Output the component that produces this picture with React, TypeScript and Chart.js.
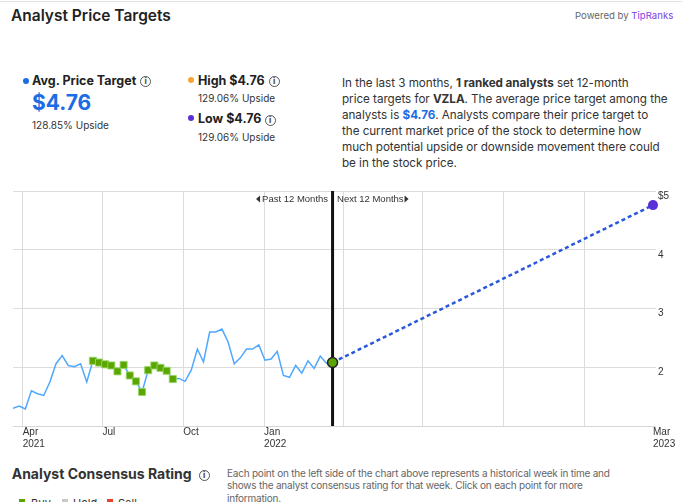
import React, { useEffect, useRef } from "react";
import { Chart, registerables } from "chart.js";
Chart.register(...registerables);

// ---------- data ----------
const weekDates = [
  "2021-03-21", "2021-03-28", "2021-04-04", "2021-04-11", "2021-04-18", "2021-04-25",
  "2021-05-02", "2021-05-09", "2021-05-16", "2021-05-23", "2021-05-30",
  "2021-06-06", "2021-06-13", "2021-06-20", "2021-06-27",
  "2021-07-04", "2021-07-11", "2021-07-18", "2021-07-25",
  "2021-08-01", "2021-08-08", "2021-08-15", "2021-08-22", "2021-08-29",
  "2021-09-05", "2021-09-12", "2021-09-19", "2021-09-26",
  "2021-10-03", "2021-10-10", "2021-10-17", "2021-10-24", "2021-10-31",
  "2021-11-07", "2021-11-14", "2021-11-21", "2021-11-28",
  "2021-12-05", "2021-12-12", "2021-12-19", "2021-12-26",
  "2022-01-02", "2022-01-09", "2022-01-16", "2022-01-23", "2022-01-30",
  "2022-02-06", "2022-02-13", "2022-02-20", "2022-02-27",
  "2022-03-06", "2022-03-13", "2022-03-20",
];
const prices = [
  1.30, 1.34, 1.29, 1.60, 1.55, 1.52, 1.75, 2.06, 2.20, 2.03, 2.01,
  2.06, 1.75, 2.11, 2.08, 2.05, 2.03, 1.93, 2.04, 1.86, 1.76, 1.58,
  1.95, 2.03, 1.99, 1.94, 1.80, 1.81, 1.76, 1.95, 2.31, 2.09, 2.60,
  2.60, 2.65, 2.43, 2.06, 2.16, 2.31, 2.31, 2.38, 2.12, 2.14, 2.27,
  1.86, 1.83, 2.03, 1.90, 2.11, 1.98, 2.19, 2.07, 2.08,
];
const ratings = [
  "", "", "", "", "", "", "", "", "", "", "", "", "",
  "buy", "buy", "buy", "buy", "buy", "buy", "buy", "buy", "buy", "buy", "buy", "buy", "buy", "buy",
  "", "", "", "", "", "", "", "", "", "", "", "", "", "", "", "", "", "", "", "", "", "", "", "", "",
  "buy",
];
const currentDate = "2022-03-20";
const targetDate = "2023-03-20";
const axisStart = "2021-03-21";
const avgTarget = 4.76;
const highTarget = 4.76;
const lowTarget = 4.76;
const avgUpside = "128.85%";
const highUpside = "129.06%";
const lowUpside = "129.06%";
const tickDates = [
  "2021-04-01", "2021-07-01", "2021-10-01", "2022-01-01",
  "2022-04-01", "2022-07-01", "2022-10-01", "2023-01-01", "2023-03-20",
];
const tickLabels: (string | string[])[] = [
  ["Apr", "2021"], "Jul", "Oct", ["Jan", "2022"], "", "", "", "", ["Mar", "2023"],
];
const yTicks = [1, 2, 3, 4, 5];
const yTickLabels = ["", "2", "3", "4", "$5"];

// ---------- helpers ----------
const dayNum = (s: string) =>
  (Date.UTC(+s.slice(0, 4), +s.slice(5, 7) - 1, +s.slice(8, 10)) - Date.UTC(2021, 0, 1)) / 86400000;

const FONT = "Inter, 'Noto Sans', sans-serif";

const T = (p: { x: number; cy: number; size: number; lh?: number; weight?: number; color?: string; children: any; style?: any }) => {
  const lh = p.lh ?? Math.round(p.size * 1.3);
  return (
    <div
      style={{
        position: "absolute", left: p.x, top: p.cy - lh / 2, fontSize: p.size, lineHeight: lh + "px",
        fontWeight: p.weight ?? 400, color: p.color ?? "#333", whiteSpace: "nowrap", ...p.style,
      }}
    >
      {p.children}
    </div>
  );
};

const Info = ({ cx, cy }: { cx: number; cy: number }) => (
  <div
    style={{
      position: "absolute", left: cx - 5.5, top: cy - 5.5, width: 9, height: 9, border: "1.2px solid #555",
      borderRadius: "50%", fontSize: 8, lineHeight: "9px", textAlign: "center", color: "#555", fontWeight: 700,
      fontFamily: "'DejaVu Sans', sans-serif",
    }}
  >
    i
  </div>
);

const Dot = ({ cx, cy, c }: { cx: number; cy: number; c: string }) => (
  <div style={{ position: "absolute", left: cx - 3, top: cy - 3, width: 6, height: 6, borderRadius: "50%", background: c }} />
);

const Sq = ({ x, y, c }: { x: number; y: number; c: string }) => (
  <div style={{ position: "absolute", left: x, top: y, width: 6, height: 6, background: c }} />
);

export default function App() {
  const ref = useRef<HTMLCanvasElement | null>(null);

  useEffect(() => {
    if (!ref.current) return;
    const days = weekDates.map(dayNum);
    const cur = dayNum(currentDate);
    const tgt = dayNum(targetDate);
    const minDay = dayNum(axisStart);
    const tickDays = tickDates.map(dayNum);
    const last = prices.length - 1;

    const pricePts = days.map((d, i) => ({ x: d, y: prices[i] }));
    const ratingPts = days
      .map((d, i) => ({ x: d, y: prices[i], r: ratings[i], i }))
      .filter((p) => p.r === "buy" && p.i < last)
      .map((p) => ({ x: p.x, y: p.y }));

    const divider = {
      id: "divider",
      beforeDatasetsDraw(chart: any) {
        const { ctx, chartArea } = chart;
        const xs = chart.scales.x;
        const px = xs.getPixelForValue(cur);
        ctx.save();
        ctx.strokeStyle = "#111";
        ctx.lineWidth = 3;
        ctx.beginPath();
        ctx.moveTo(px, chartArea.top);
        ctx.lineTo(px, chartArea.bottom);
        ctx.stroke();
        const y = chartArea.top + 8;
        ctx.font = "9.5px 'Liberation Sans', Arial, sans-serif";
        ctx.fillStyle = "#333";
        ctx.textBaseline = "middle";
        ctx.textAlign = "right";
        const pastTxt = "Past 12 Months";
        const wp = ctx.measureText(pastTxt).width;
        ctx.fillText(pastTxt, px - 4.5, y);
        const sx = px - 4.5 - wp - 2;
        ctx.beginPath();
        ctx.moveTo(sx - 4, y);
        ctx.lineTo(sx, y - 3.5);
        ctx.lineTo(sx, y + 3.5);
        ctx.closePath();
        ctx.fill();
        ctx.textAlign = "left";
        const nextTxt = "Next 12 Months";
        const wn = ctx.measureText(nextTxt).width;
        ctx.fillText(nextTxt, px + 4.5, y);
        const ex = px + 4.5 + wn + 1;
        ctx.beginPath();
        ctx.moveTo(ex + 4, y);
        ctx.lineTo(ex, y - 3.5);
        ctx.lineTo(ex, y + 3.5);
        ctx.closePath();
        ctx.fill();
        ctx.restore();
      },
    };

    const chart = new Chart(ref.current, {
      type: "line",
      data: {
        datasets: [
          {
            data: [{ x: cur, y: prices[last] }],
            pointRadius: 5,
            pointBackgroundColor: "#5aa500",
            pointBorderColor: "#222",
            pointBorderWidth: 1.5,
            showLine: false,
            order: 0,
            clip: false,
          } as any,
          {
            data: [{ x: tgt, y: avgTarget }],
            pointRadius: 5,
            pointBackgroundColor: "#5a2fd6",
            pointBorderColor: "#5a2fd6",
            pointBorderWidth: 0,
            showLine: false,
            order: 1,
            clip: false,
          },
          {
            data: ratingPts,
            pointStyle: "rect",
            pointRadius: 5,
            pointBackgroundColor: "#5aa500",
            pointBorderColor: "rgba(150,215,100,0.9)",
            pointBorderWidth: 1,
            showLine: false,
            order: 2,
          },
          {
            data: [{ x: cur, y: prices[last] }, { x: tgt, y: avgTarget }],
            borderColor: "#2a58dc",
            borderWidth: 2.5,
            borderDash: [4, 3],
            pointRadius: 0,
            order: 3,
            clip: false,
          },
          {
            data: pricePts,
            borderColor: "#4fa8ff",
            borderWidth: 1.5,
            pointRadius: 0,
            tension: 0,
            order: 4,
          },
        ],
      },
      options: {
        animation: false,
        responsive: false,
        devicePixelRatio: 1,
        layout: { padding: { left: 13, right: 19, top: 11, bottom: 0 } },
        plugins: { legend: { display: false }, tooltip: { enabled: false } },
        scales: {
          x: {
            type: "linear",
            min: minDay,
            max: tgt,
            afterBuildTicks: (s: any) => {
              s.ticks = tickDays.map((v) => ({ value: v }));
            },
            afterFit: (s: any) => {
              s.height = 34;
              s.paddingLeft = 0;
              s.paddingRight = 0;
            },
            ticks: {
              autoSkip: false,
              maxRotation: 0,
              minRotation: 0,
              align: "start",
              padding: 0,
              color: "#333",
              font: { size: 10, family: "'Liberation Sans', Arial, sans-serif", lineHeight: 1.2 },
              callback: (v: any) => {
                const k = tickDays.indexOf(v);
                return k >= 0 ? tickLabels[k] : "";
              },
            },
            grid: {
              color: (c: any) => (c.tick && c.tick.value === tgt ? "rgba(0,0,0,0)" : "#dcdcdc"),
              drawTicks: false,
              lineWidth: 1,
            },
            border: { color: "#d6d6d6" },
          } as any,
          y: {
            position: "right",
            min: 1,
            max: 5,
            afterBuildTicks: (s: any) => {
              s.ticks = yTicks.map((v) => ({ value: v }));
            },
            afterFit: (s: any) => {
              s.width = 20;
              s.paddingTop = 0;
              s.paddingBottom = 0;
            },
            ticks: {
              padding: 2,
              labelOffset: 5,
              color: "#333",
              font: { size: 10, family: "'Liberation Sans', Arial, sans-serif" },
              callback: (v: any) => {
                const k = yTicks.indexOf(v);
                return k >= 0 ? yTickLabels[k] : "";
              },
            },
            grid: { color: "#dcdcdc", tickLength: 3 },
            border: { display: false },
          } as any,
        },
      },
      plugins: [divider],
    });
    return () => chart.destroy();
  }, []);

  const blue = "#1b6de6";
  return (
    <div
      style={{
        position: "fixed", left: 0, top: 0, width: 692, height: 502, overflow: "hidden",
        background: "#fff", fontFamily: FONT, color: "#333",
      }}
    >
      <div style={{ position: "absolute", left: 0, top: 1, width: 682, height: 1, background: "#e2e2e2" }} />
      <T x={11} cy={15.5} size={15.5} lh={20} weight={600} color="#222">Analyst Price Targets</T>
      <T x={575} cy={15.7} size={9.6} lh={14} color="#666">
        Powered by <span style={{ color: "#7a3ee8" }}>TipRanks</span>
      </T>

      <Dot cx={25.7} cy={80.7} c={blue} />
      <T x={32} cy={80.7} size={12.5} lh={16} weight={700} color="#222">Avg. Price Target</T>
      <Info cx={145.5} cy={81.3} />
      <T x={32} cy={102.5} size={21} lh={26} weight={700} color={blue}>${avgTarget.toFixed(2)}</T>
      <T x={32} cy={124.7} size={10} lh={14} color="#333">{avgUpside} Upside</T>

      <Dot cx={191} cy={80} c="#f7a533" />
      <T x={198} cy={80.7} size={12.5} lh={16} weight={700} color="#222">High ${highTarget.toFixed(2)}</T>
      <Info cx={274} cy={81.7} />
      <T x={198} cy={97.7} size={10} lh={14} color="#333">{highUpside} Upside</T>

      <Dot cx={191} cy={118.3} c="#5a2fd6" />
      <T x={198} cy={119} size={12.5} lh={16} weight={700} color="#222">Low ${lowTarget.toFixed(2)}</T>
      <Info cx={270} cy={120} />
      <T x={198} cy={136.7} size={10} lh={14} color="#333">{lowUpside} Upside</T>

      <div
        style={{
          position: "absolute", left: 342, top: 75.3, fontSize: 11.7, lineHeight: "16px", color: "#333", whiteSpace: "nowrap",
          letterSpacing: "-0.05px",
        }}
      >
        In the last 3 months, <b>1 ranked analysts</b> set 12-month
        <br />
        price targets for <b>VZLA</b>. The average price target among the
        <br />
        analysts is <b style={{ color: blue }}>${avgTarget.toFixed(2)}</b>. Analysts compare their price target to
        <br />
        the current market price of the stock to determine how
        <br />
        much potential upside or downside movement there could
        <br />
        be in the stock price.
      </div>

      <canvas ref={ref} width={692} height={280} style={{ position: "absolute", left: 0, top: 180, width: 692, height: 280 }} />

      <T x={11.7} cy={473.5} size={14} lh={18} weight={700} color="#333">Analyst Consensus Rating</T>
      <Info cx={204} cy={475} />
      <div
        style={{
          position: "absolute", left: 227, top: 467.2, fontSize: 10, lineHeight: "12.2px", color: "#666", whiteSpace: "nowrap",
          letterSpacing: "-0.22px",
        }}
      >
        Each point on the left side of the chart above represents a historical week in time and
        <br />
        shows the analyst consensus rating for that week. Click on each point for more
        <br />
        information.
      </div>

      <Sq x={19} y={499} c="#5aa500" />
      <T x={31} cy={503} size={11} lh={14} color="#333">Buy</T>
      <Sq x={62} y={499} c="#c8c8c8" />
      <T x={73} cy={503} size={11} lh={14} color="#333">Hold</T>
      <Sq x={107} y={499} c="#e8412c" />
      <T x={118} cy={503} size={11} lh={14} color="#333">Sell</T>
    </div>
  );
}
